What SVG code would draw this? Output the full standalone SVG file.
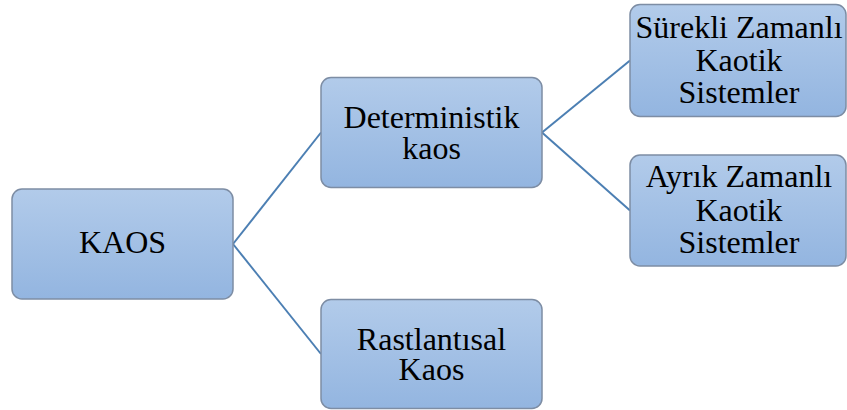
<svg xmlns="http://www.w3.org/2000/svg" width="847" height="410" viewBox="0 0 847 410">
<defs>
<linearGradient id="g" x1="0" y1="0" x2="0" y2="1">
<stop offset="0" stop-color="#b2cbea"/>
<stop offset="1" stop-color="#93b5e0"/>
</linearGradient>
</defs>
<style>
.box{fill:url(#g);stroke:#7d8da4;stroke-width:1.5}
.c{stroke:#4c7fb3;stroke-width:2;fill:none}
</style>
<rect width="847" height="410" fill="#fff"/>
<g id="connectors">
<line class="c" x1="233" y1="244" x2="321" y2="132.5"/>
<line class="c" x1="233" y1="244" x2="321" y2="354"/>
<line class="c" x1="542" y1="132.5" x2="630" y2="60.5"/>
<line class="c" x1="542" y1="132.5" x2="630" y2="210.5"/>
</g>
<g id="kaos">
<rect class="box" x="12" y="189" width="221" height="110" rx="10"/>
<text x="122.5" y="253" font-family="'Liberation Serif'" font-size="32" text-anchor="middle">KAOS</text>
</g>
<g id="deterministik">
<rect class="box" x="321" y="77.5" width="221" height="110" rx="10"/>
<text x="431.5" y="128" font-family="'Liberation Serif'" font-size="32" text-anchor="middle">Deterministik</text>
<text x="431.5" y="158.5" font-family="'Liberation Serif'" font-size="32" text-anchor="middle">kaos</text>
</g>
<g id="rastlantisal">
<rect class="box" x="321" y="299.5" width="221" height="109" rx="10"/>
<text x="431.5" y="350" font-family="'Liberation Serif'" font-size="32" text-anchor="middle">Rastlantısal</text>
<text x="431.5" y="379.5" font-family="'Liberation Serif'" font-size="32" text-anchor="middle">Kaos</text>
</g>
<g id="surekli">
<rect class="box" x="630" y="4.5" width="216" height="112" rx="10"/>
<text x="739" y="37.5" font-family="'Liberation Serif'" font-size="32" text-anchor="middle">Sürekli Zamanlı</text>
<text x="739" y="71" font-family="'Liberation Serif'" font-size="32" text-anchor="middle">Kaotik</text>
<text x="739" y="103" font-family="'Liberation Serif'" font-size="32" text-anchor="middle">Sistemler</text>
</g>
<g id="ayrik">
<rect class="box" x="630" y="155" width="216" height="111" rx="10"/>
<text x="739" y="187" font-family="'Liberation Serif'" font-size="32" text-anchor="middle">Ayrık Zamanlı</text>
<text x="739" y="221" font-family="'Liberation Serif'" font-size="32" text-anchor="middle">Kaotik</text>
<text x="739" y="253" font-family="'Liberation Serif'" font-size="32" text-anchor="middle">Sistemler</text>
</g>
</svg>
